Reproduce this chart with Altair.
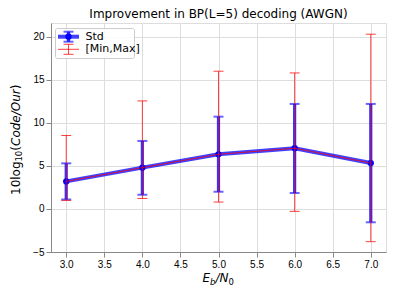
import altair as alt
import pandas as pd

# ---- data ----
ebn0 = [3.0, 4.0, 5.0, 6.0, 7.0]
mean_vals = [3.2, 4.8, 6.35, 7.05, 5.33]
std_lo = [1.1, 1.65, 2.0, 1.85, -1.55]
std_hi = [5.3, 7.9, 10.72, 12.2, 12.2]
min_vals = [1.0, 1.22, 0.8, -0.28, -3.8]
max_vals = [8.53, 12.55, 16.0, 15.8, 20.3]
x_ticks = [3.0, 3.5, 4.0, 4.5, 5.0, 5.5, 6.0, 6.5, 7.0]
y_ticks = [-5, 0, 5, 10, 15, 20]

df = pd.DataFrame({"x": ebn0, "m": mean_vals, "slo": std_lo, "shi": std_hi,
                   "mn": min_vals, "mx": max_vals})
one = pd.DataFrame({"a": [0]})

FONT = "DejaVu Sans"
W, H = 335, 229
TOP = 23
BLUE = "#0000ff"
RED = "#ff0000"

xs = alt.Scale(domain=[2.8, 7.2], nice=False, zero=False)
ys = alt.Scale(domain=[-5.0, 21.6], nice=False, zero=False)

X = alt.X("x:Q", scale=xs, axis=alt.Axis(values=x_ticks, format=".1f", title=None))
Y = alt.Y("m:Q", scale=ys, axis=alt.Axis(values=y_ticks, format="d", title=None))

base = alt.Chart(df)

blue_line = base.mark_line(color=BLUE, strokeWidth=4, opacity=0.75).encode(x=X, y=Y)
blue_bar = base.mark_rule(color=BLUE, strokeWidth=3.2, opacity=0.8).encode(
    x="x:Q", y=alt.Y("slo:Q"), y2="shi:Q")
blue_cap_lo = base.mark_tick(color=BLUE, orient="horizontal", size=10, thickness=2,
                             opacity=0.6).encode(x="x:Q", y="slo:Q")
blue_cap_hi = base.mark_tick(color=BLUE, orient="horizontal", size=10, thickness=2,
                             opacity=0.6).encode(x="x:Q", y="shi:Q")
blue_pts = base.mark_circle(color=BLUE, size=40, opacity=1).encode(x="x:Q", y="m:Q")

red_line = base.mark_line(color=RED, strokeWidth=1, opacity=0.75).encode(x="x:Q", y="m:Q")
red_bar = base.mark_rule(color=RED, strokeWidth=1, opacity=0.75).encode(
    x="x:Q", y="mn:Q", y2="mx:Q")
red_cap_lo = base.mark_tick(color=RED, orient="horizontal", size=10, thickness=1,
                            opacity=0.75).encode(x="x:Q", y="mn:Q")
red_cap_hi = base.mark_tick(color=RED, orient="horizontal", size=10, thickness=1,
                            opacity=0.75).encode(x="x:Q", y="mx:Q")

# ---- legend (drawn by hand, matplotlib style) ----
lg = alt.Chart(one)
leg_box = lg.mark_rect(fill="white", fillOpacity=0.85, stroke="#cccccc", strokeWidth=1,
                       cornerRadius=2).encode(
    x=alt.value(4.5), x2=alt.value(83.5), y=alt.value(5.5), y2=alt.value(35.5))
ly1, ly2, lcx = 13.7, 26.3, 17.5
leg_bline = lg.mark_rule(color=BLUE, strokeWidth=4, opacity=0.75).encode(
    x=alt.value(7), x2=alt.value(28), y=alt.value(ly1))
leg_bvert = lg.mark_rule(color=BLUE, strokeWidth=3.2, opacity=0.8).encode(
    x=alt.value(lcx), y=alt.value(ly1 - 5), y2=alt.value(ly1 + 5))
leg_bcap1 = lg.mark_rule(color=BLUE, strokeWidth=2, opacity=0.6).encode(
    x=alt.value(lcx - 5), x2=alt.value(lcx + 5), y=alt.value(ly1 - 5))
leg_bcap2 = lg.mark_rule(color=BLUE, strokeWidth=2, opacity=0.6).encode(
    x=alt.value(lcx - 5), x2=alt.value(lcx + 5), y=alt.value(ly1 + 5))
leg_bpt = lg.mark_circle(color=BLUE, size=40, opacity=1).encode(
    x=alt.value(lcx), y=alt.value(ly1))
leg_rline = lg.mark_rule(color=RED, strokeWidth=1, opacity=0.75).encode(
    x=alt.value(7), x2=alt.value(28), y=alt.value(ly2))
leg_rvert = lg.mark_rule(color=RED, strokeWidth=1, opacity=0.75).encode(
    x=alt.value(lcx), y=alt.value(ly2 - 5), y2=alt.value(ly2 + 5))
leg_rcap1 = lg.mark_rule(color=RED, strokeWidth=1, opacity=0.75).encode(
    x=alt.value(lcx - 5), x2=alt.value(lcx + 5), y=alt.value(ly2 - 5))
leg_rcap2 = lg.mark_rule(color=RED, strokeWidth=1, opacity=0.75).encode(
    x=alt.value(lcx - 5), x2=alt.value(lcx + 5), y=alt.value(ly2 + 5))
leg_t1 = lg.mark_text(text="Std", font=FONT, fontSize=11, align="left",
                      baseline="middle", color="black").encode(
    x=alt.value(34.5), y=alt.value(ly1))
leg_t2 = lg.mark_text(text="[Min,Max]", font=FONT, fontSize=11, align="left",
                      baseline="middle", color="black").encode(
    x=alt.value(34.5), y=alt.value(ly2))

# ---- axis titles with italics / subscripts ----
def txt(s, x, y, size=12, style="normal", angle=0, baseline="alphabetic"):
    return lg.mark_text(text=s, font=FONT, fontSize=size, fontStyle=style, align="left",
                        baseline=baseline, angle=angle, color="black").encode(
        x=alt.value(x), y=alt.value(y))

# x title: E_b/N_0
bx = 202.5 - 51
by = 282 - TOP
xt = [
    txt("E", bx, by, 12, "italic"),
    txt("b", bx + 7.6, by + 2.5, 8.5, "italic"),
    txt("/N", bx + 13.0, by, 12, "italic"),
    txt("0", bx + 26.0, by + 2.5, 8.5),
]

# y title: 10log_10(Code/Our), rotated
tx = 19.5 - 51
ty0 = 195 - TOP
yt = [
    txt("10log", tx, ty0, 12, angle=270),
    txt("10", tx + 2.5, ty0 - 33.4, 8.5, angle=270),
    txt("(", tx, ty0 - 44.3, 12, angle=270),
    txt("Code/Our", tx, ty0 - 49.0, 12, "italic", angle=270),
    txt(")", tx, ty0 - 105.7, 12, angle=270),
]

chart = alt.layer(
    blue_line, blue_bar, blue_cap_lo, blue_cap_hi, blue_pts,
    red_line, red_bar, red_cap_lo, red_cap_hi,
    leg_box, leg_bline, leg_bvert, leg_bcap1, leg_bcap2, leg_bpt,
    leg_rline, leg_rvert, leg_rcap1, leg_rcap2, leg_t1, leg_t2,
    *xt, *yt,
).properties(
    width=W, height=H,
    title=alt.Title("Improvement in BP(L=5) decoding (AWGN)", font=FONT, fontSize=12,
                    fontWeight="normal", color="black", anchor="middle", offset=2),
    autosize=alt.AutoSizeParams(type="none"),
    padding={"left": 43, "top": TOP - 8, "right": 1, "bottom": 36},
).configure_view(
    stroke="#555555", strokeWidth=1
).configure_axis(
    domain=False, grid=True, gridColor="#b8b8b8", gridDash=[3, 2], gridWidth=0.8,
    ticks=True, tickColor="black", tickSize=4, tickWidth=0.8,
    labelFont=FONT, labelFontSize=11, labelColor="black", labelPadding=3,
).configure(background="white")

chart.save("out.html", embed_options={"renderer": "svg", "actions": False})
